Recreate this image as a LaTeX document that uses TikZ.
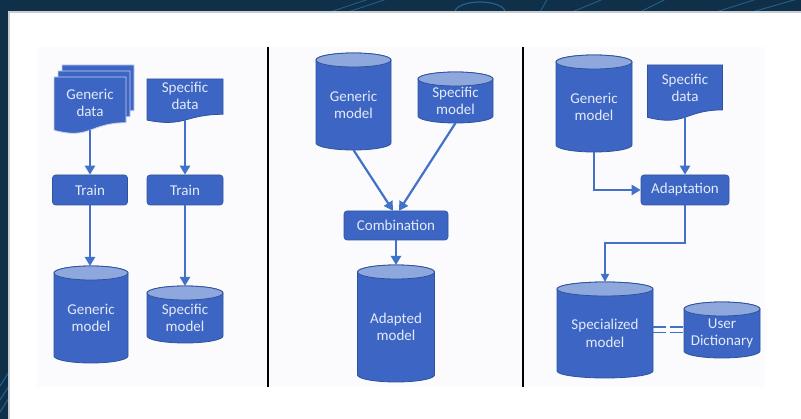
\documentclass[tikz,border=0pt]{standalone}
\usepackage{fontspec}
\setmainfont{Carlito}
\usetikzlibrary{arrows.meta,calc}

\definecolor{navy}{HTML}{10304A}
\definecolor{streak}{HTML}{2C86C4}
\definecolor{frameline}{HTML}{C8CDD4}
\definecolor{paper}{HTML}{FBFBFD}
\definecolor{cylblue}{HTML}{3D66C4}
\definecolor{toplight}{HTML}{8EA7DC}
\definecolor{edgeblue}{HTML}{2E539E}
\definecolor{arrowblue}{HTML}{4271C9}
\definecolor{labelwhite}{HTML}{E4EAF7}

\tikzset{
  every node/.style={font=\fontsize{15}{17.5}\selectfont},
  flowbox/.style={rectangle, rounded corners=3pt, fill=cylblue, draw=edgeblue,
    line width=0.6pt, text=labelwhite, inner sep=0pt},
  cylbody/.style={fill=cylblue, draw=edgeblue, line width=0.8pt},
  cyltop/.style={fill=toplight, draw=edgeblue, line width=0.8pt},
  docbody/.style={fill=cylblue, draw=edgeblue, line width=0.8pt},
  docstack/.style={fill=cylblue, draw=white!70!cylblue, line width=0.8pt},
  anchorbox/.style={rectangle, inner sep=0pt, outer sep=0pt},
  labeltext/.style={text=labelwhite, align=center, inner sep=0pt},
  arr/.style={draw=arrowblue, line width=2.2pt, -{Triangle[length=9pt,width=10pt]}},
  thinarr/.style={draw=arrowblue, line width=1.6pt, -{Triangle[length=8pt,width=8pt]}},
  tie/.style={draw=arrowblue, line width=1.8pt, dash pattern=on 13pt off 4pt},
  divider/.style={draw=black, line width=2.4pt},
}

\def\cylry{7}

% database cylinder: name, centre x, top y, width, height, label
\newcommand\dbcyl[6]{%
  \pgfmathsetmacro\cxl{#2-#4/2}%
  \pgfmathsetmacro\cxr{#2+#4/2}%
  \pgfmathsetmacro\crx{#4/2}%
  \pgfmathsetmacro\ctop{#3+\cylry}%
  \pgfmathsetmacro\cbot{#3+#5-\cylry}%
  \path[cylbody] (\cxl,\ctop) -- (\cxl,\cbot)
    arc[start angle=180,end angle=0,x radius=\crx,y radius=\cylry]
    -- (\cxr,\ctop)
    arc[start angle=0,end angle=-180,x radius=\crx,y radius=\cylry] -- cycle;
  \path[cyltop] (#2,\ctop) ellipse[x radius=\crx,y radius=\cylry];
  \node[anchorbox, minimum width=#4pt, minimum height=#5pt] (#1) at (#2,{#3+#5/2}) {};
  \node[labeltext] (#1-t) at (#2,{#3+#5/2+\cylry/2}) {#6};
}

% document page with wavy lower edge: name, style, left x, top y, width, height
\newcommand\docpage[6]{%
  \pgfmathsetmacro\dxr{#3+#5}%
  \pgfmathsetmacro\dxm{#3+#5/2}%
  \path[#2] (#3,#4) -- (\dxr,#4) -- (\dxr,{#4+0.802*#6})
    .. controls (\dxm,{#4+0.802*#6}) and (\dxm,{#4+1.107*#6}) .. (#3,{#4+0.934*#6}) -- cycle;
  \node[anchorbox, anchor=north, minimum width=#5pt, minimum height={0.933*#6}] (#1) at (\dxm,#4) {};
}

\begin{document}
\begin{tikzpicture}[x=1pt,y=-1pt]
\useasboundingbox (0,0) rectangle (801,419);

% backdrop and white sheet
\fill[navy] (0,0) rectangle (801,419);
\begin{scope}
  \clip (0,0) rectangle (801,11);
  \foreach \a/\b in {330/372, 348/390, 540/548, 572/606, 640/668, 716/760, 752/801}
    \draw[streak, opacity=0.55, line width=0.9pt] (\a,12) -- (\b,-2);
  \draw[streak, opacity=0.6, line width=1.2pt] (455,12) arc[start angle=180,end angle=360,x radius=25,y radius=10];
\end{scope}
\begin{scope}
  \clip (0,0) rectangle (8,419);
  \foreach \a in {372, 386, 398}
    \draw[streak, opacity=0.6, line width=1pt] (0,{\a+14}) -- (9,\a);
\end{scope}
\fill[white] (8,11) rectangle (801,419);
\draw[frameline, line width=1.6pt] (8.8,419) -- (8.8,11.8) -- (801,11.8);
\fill[paper] (37,47) rectangle (765,387);

% panel separators
\draw[divider] (268,47) -- (268,387);
\draw[divider] (523,47) -- (523,387);

% ---------- training from data ----------
\docpage{gd-b}{docstack}{62}{65}{72}{57}
\docpage{gd-m}{docstack}{58}{71}{72}{57}
\docpage{gd}{docstack}{54}{77}{72}{57}
\node[labeltext] (gd-t) at (90,103) {Generic\\data};

\docpage{sd1}{docbody}{147}{79}{76}{44}
\node[labeltext] (sd1-t) at (185,96) {Specific\\data};

\node[flowbox, minimum width=75pt, minimum height=30pt] (train1) at (90,190) {Train};
\node[flowbox, minimum width=76pt, minimum height=30pt] (train2) at (185,190) {Train};

\dbcyl{gm1}{91}{266}{74}{97}{Generic\\model}
\dbcyl{sm1}{185}{286}{76}{57}{Specific\\model}

\draw[arr] (gd.south) -- (gd.south |- train1.north);
\draw[arr] (sd1.south) -- (train2.north);
\draw[arr] (train1.south) -- (gm1.north -| train1.south);
\draw[arr] (train2.south) -- (sm1.north);

% ---------- combining two models ----------
\dbcyl{gm2}{353.5}{53}{75}{97}{Generic\\model}
\dbcyl{sm2}{455.5}{72}{75}{51}{Specific\\model}
\node[flowbox, minimum width=104pt, minimum height=29pt] (comb) at (396,225.5) {Combination};
\dbcyl{am}{396}{265}{77}{117}{Adapted\\model}

\draw[arr] (gm2.south) -- ([xshift=-3pt]comb.north);
\draw[arr] (sm2.south) -- ([xshift=3pt]comb.north);
\draw[arr] (comb.south) -- (am.north);

% ---------- adapting a model ----------
\dbcyl{gm3}{594}{55}{76}{97}{Generic\\model}
\docpage{sd3}{docbody}{647.5}{65}{75}{56}
\node[labeltext] (sd3-t) at (685,88) {Specific\\data};
\node[flowbox, minimum width=88pt, minimum height=30pt] (adapt) at (685,190) {Adaptation};
\dbcyl{spm}{605}{282}{96}{96}{Specialized\\model}
\dbcyl{ud}{722}{302}{76}{56}{User\\Dictionary}

\draw[arr] (gm3.south) |- (adapt.west);
\draw[arr] (sd3.south) -- (adapt.north);
\draw[thinarr] (adapt.south) -- ++(0,38) -| (spm.north);
\draw[tie] ([yshift=2.6pt]spm.east) -- ([yshift=2.6pt]ud.west);
\draw[tie] ([yshift=-2.6pt]spm.east) -- ([yshift=-2.6pt]ud.west);
\end{tikzpicture}
\end{document}
